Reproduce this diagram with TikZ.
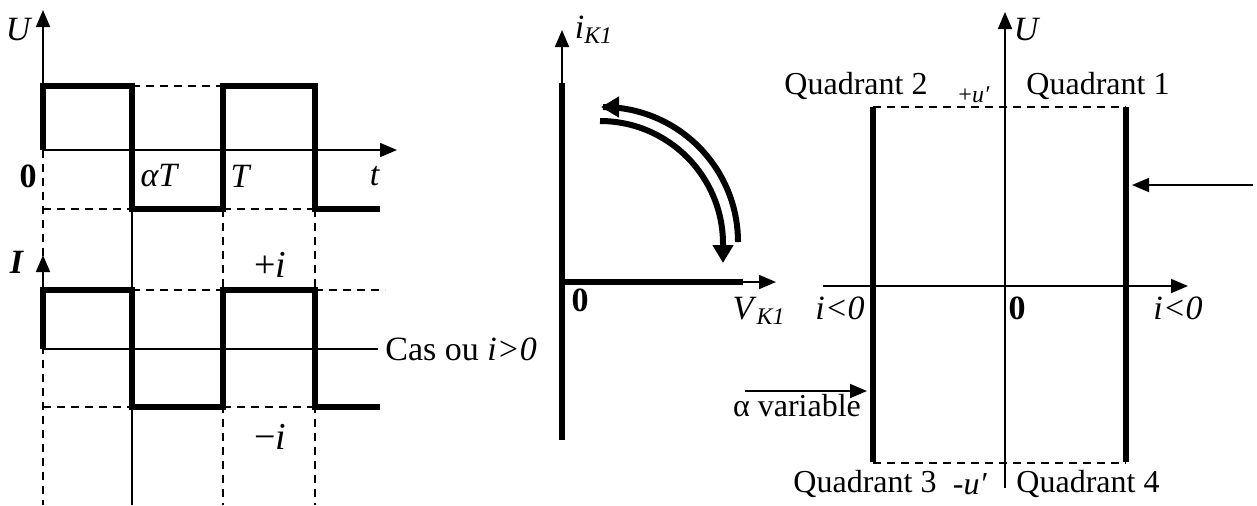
\documentclass[tikz,border=0pt]{standalone}
\usepackage{fontspec}
\setmainfont{Liberation Serif}
\usetikzlibrary{arrows.meta}
\begin{document}
\begin{tikzpicture}[x=0.5pt,y=-0.5pt,
  thinln/.style={line width=0.9pt},
  wave/.style={line width=2.7pt},
  dsh/.style={line width=0.8pt, dash pattern=on 4pt off 3pt},
  axarrow/.style={-{Triangle[length=8.5pt,width=7pt]}},
  bigarrow/.style={line width=3pt,-{Triangle[length=9pt,width=10pt]}},
  lbl/.style={font=\fontsize{16}{18}\selectfont, inner sep=0pt},
  sml/.style={font=\fontsize{12}{14}\selectfont, inner sep=0pt}]
\useasboundingbox (0,0) rectangle (1257,505);

% ---------- U(t) ----------
\coordinate (uo) at (43,150);
\coordinate (utop) at (43,10);
\coordinate (uend) at (397,150);
\draw[dsh] (43,150) -- (43,505);
\draw[dsh] (223,209) -- (223,505);
\draw[dsh] (315,209) -- (315,505);
\draw[thinln] (132,209) -- (132,505);
\draw[dsh] (132,86) -- (223,86);
\draw[dsh] (43,209) -- (132,209);
\draw[dsh] (223,209) -- (315,209);
\draw[thinln,axarrow] (uo) -- (utop);
\draw[thinln,axarrow] (uo) -- (uend);
\draw[wave] (43,150) -- (43,86) -- (132,86) -- (132,209) -- (223,209) -- (223,86) -- (315,86) -- (315,209) -- (380,209);
\node[lbl,font=\fontsize{17}{19}\selectfont] (lU) at (19,30) {\textit{U}};
\node[lbl,font=\fontsize{17}{19}\selectfont] (l0) at (28,176) {\textbf{0}};
\node[lbl,font=\fontsize{17}{19}\selectfont] (laT) at (160,176) {\textit{αT}};
\node[lbl,font=\fontsize{17}{19}\selectfont] (lT) at (241,176) {\textit{T}};
\node[lbl,font=\fontsize{17}{19}\selectfont] (lt) at (375,176) {\textit{t}};

% ---------- I(t) ----------
\coordinate (io) at (43,349);
\coordinate (itop) at (43,255);
\coordinate (iend) at (378,349);
\draw[dsh] (132,290) -- (223,290);
\draw[dsh] (315,290) -- (385,290);
\draw[dsh] (43,407) -- (132,407);
\draw[dsh] (223,407) -- (315,407);
\draw[thinln,axarrow] (io) -- (itop);
\draw[thinln] (io) -- (iend);
\draw[wave] (43,349) -- (43,290) -- (132,290) -- (132,407) -- (223,407) -- (223,290) -- (315,290) -- (315,407) -- (380,407);
\node[lbl,font=\fontsize{17}{19}\selectfont] (lI) at (17,262) {\textbf{\textit{I}}};
\node[lbl,font=\fontsize{19}{21}\selectfont] (lpi) at (270,265) {+\textit{i}};
\node[lbl,font=\fontsize{19}{21}\selectfont] (lmi) at (270,437) {−\textit{i}};
\node[lbl,anchor=west,font=\fontsize{17}{19}\selectfont] (cas) at (385,349) {Cas ou \textit{i>0}};

% ---------- i_K1 / V_K1 ----------
\coordinate (ko) at (562,282);
\coordinate (ktop) at (562,30);
\coordinate (kend) at (776,282);
\draw[thinln,axarrow] (ko) -- (ktop);
\draw[thinln,axarrow] (ko) -- (kend);
\draw[line width=3pt] (562,83) -- (562,440);
\draw[line width=3pt] (562,282) -- (743,282);
\node[lbl,font=\fontsize{17}{19}\selectfont] (liK) at (594,30) {\textit{i}\textsubscript{\textit{K1}}};
\node[lbl,font=\fontsize{17}{19}\selectfont] (lk0) at (580,300) {\textbf{0}};
\node[lbl,font=\fontsize{17}{19}\selectfont] (lvK) at (759,311) {\textit{V}\textsubscript{\textit{K1}}};
\coordinate (a1s) at (738,242);
\draw[bigarrow] (a1s) arc[start angle=0,end angle=-90,radius=135] -- ++(-2,0);
\coordinate (a2s) at (600,121);
\draw[bigarrow] (a2s) arc[start angle=-90,end angle=0,radius=123] -- ++(0,19);

% ---------- Quadrants ----------
\coordinate (qo) at (1005,286);
\coordinate (qbot) at (1005,488);
\coordinate (qtop) at (1005,12);
\coordinate (qleft) at (823,286);
\coordinate (qend) at (1188,286);
\draw[thinln,axarrow] (qbot) -- (qtop);
\draw[thinln,axarrow] (qleft) -- (qend);
\draw[dsh] (873,107) -- (1126,107);
\draw[dsh] (873,463) -- (1126,463);
\draw[line width=3pt] (873,107) -- (873,462);
\draw[line width=3pt] (1126,107) -- (1126,462);
\coordinate (ra) at (1253,185);
\coordinate (rb) at (1132,185);
\draw[thinln,axarrow] (ra) -- (rb);
\coordinate (va) at (745,391);
\coordinate (vb) at (867,391);
\draw[thinln,axarrow] (va) -- (vb);
\node[lbl,font=\fontsize{17}{19}\selectfont] (lqU) at (1027,30) {\textit{U}};
\node[lbl] (q2) at (856,86) {Quadrant 2};
\node[sml] (lpu) at (974,95) {+\textit{u′}};
\node[lbl] (q1) at (1098,86) {Quadrant 1};
\node[lbl,font=\fontsize{17}{19}\selectfont] (ineg1) at (840,308) {\textit{i<0}};
\node[lbl,font=\fontsize{17}{19}\selectfont] (lq0) at (1017,308) {\textbf{0}};
\node[lbl,font=\fontsize{17}{19}\selectfont] (ineg2) at (1178,308) {\textit{i<0}};
\node[lbl] (alv) at (797,406) {α variable};
\node[lbl] (q3) at (865,484) {Quadrant 3};
\node[lbl] (lmu) at (970,484) {-\textit{u′}};
\node[lbl] (q4) at (1088,484) {Quadrant 4};
\end{tikzpicture}
\end{document}
